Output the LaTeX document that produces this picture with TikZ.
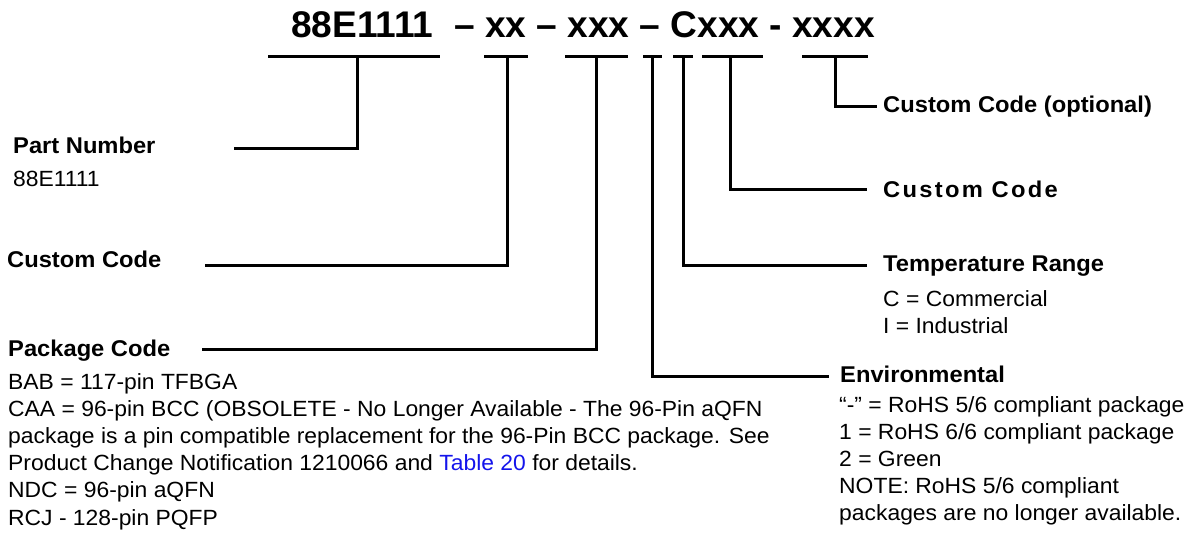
\documentclass[tikz,border=0pt]{standalone}
\usepackage{fontspec}
\setmainfont{Liberation Sans}[FakeStretch=1.04]
\newfontfamily\titlefont{Liberation Sans}
\newfontfamily\spacedfont{Liberation Sans}[FakeStretch=1.04,LetterSpace=10]
\definecolor{linkblue}{RGB}{20,20,235}
\begin{document}
\begin{tikzpicture}[x=1pt,y=-1pt,
  bar/.style={line width=3pt},
  lead/.style={line width=3pt,line join=miter},
  lbl/.style={anchor=base west,inner sep=0pt,font=\fontsize{22.8}{27}\selectfont\bfseries},
  body/.style={anchor=base west,inner sep=0pt,font=\fontsize{22}{27.2}\selectfont},
  title/.style={anchor=base west,inner sep=0pt,font=\titlefont\fontsize{37.1}{40}\selectfont\bfseries}]
\useasboundingbox (0,0) rectangle (1188,537);
% title
\node[title] (title) at (291,38) {88E1111\ \ – xx – xxx – Cxxx - xxxx};
% bars
\coordinate (b1w) at (268,57); \coordinate (b1e) at (440,57); \coordinate (b1m) at (357,57);
\coordinate (b2w) at (484,57); \coordinate (b2e) at (528,57); \coordinate (b2m) at (507,57);
\coordinate (b3w) at (565,57); \coordinate (b3e) at (628,57); \coordinate (b3m) at (596,57);
\coordinate (b4w) at (643,57); \coordinate (b4e) at (662,57); \coordinate (b4m) at (652,57);
\coordinate (b5w) at (673,57); \coordinate (b5e) at (693,57); \coordinate (b5m) at (683,57);
\coordinate (b6w) at (702,57); \coordinate (b6e) at (763,57); \coordinate (b6m) at (730,57);
\coordinate (b7w) at (802,57); \coordinate (b7e) at (868,57); \coordinate (b7m) at (835,57);
\foreach \i in {1,...,7} {\draw[bar] (b\i w) -- (b\i e);}
% lead ends
\coordinate (e1) at (234,149);
\coordinate (e2) at (205,266);
\coordinate (e3) at (202,349);
\coordinate (e4) at (829,376);
\coordinate (e5) at (867,266);
\coordinate (e6) at (867,190);
\coordinate (e7) at (877,107);
\foreach \i in {1,...,7} {\draw[lead] (b\i m) |- (e\i);}
% left labels
\node[lbl] (pn) at (13,154) {Part Number};
\node[body] (pntxt) at (13,187) {88E1111};
\node[lbl] (cc1) at (7,268) {Custom Code};
\node[lbl] (pkg) at (8,356) {Package Code};
\node[body] (pkgtxt) at (8,389) {\vtop{%
  \hbox{BAB = 117-pin TFBGA}%
  \hbox{CAA = 96-pin BCC (OBSOLETE - No Longer Available - The 96-Pin aQFN}%
  \hbox{package is a pin compatible replacement for the 96-Pin BCC package. See}%
  \hbox{Product Change Notification 1210066 and \textcolor{linkblue}{Table 20} for details.}%
  \hbox{NDC = 96-pin aQFN}%
  \hbox{RCJ - 128-pin PQFP}}};
% right labels
\node[lbl] (cco) at (883,113) {Custom Code (optional)};
\node[lbl,font=\spacedfont\fontsize{22.8}{27}\selectfont\bfseries] (cc2) at (883,198) {Custom Code};
\node[lbl] (temp) at (883,272) {Temperature Range};
\node[body] (temptxt) at (883,306) {\vtop{%
  \hbox{C = Commercial}%
  \hbox{I = Industrial}}};
\node[lbl] (env) at (840,382) {Environmental};
\node[body] (envtxt) at (839,412) {\vtop{%
  \hbox{“-” = RoHS 5/6 compliant package}%
  \hbox{1 = RoHS 6/6 compliant package}%
  \hbox{2 = Green}%
  \hbox{NOTE: RoHS 5/6 compliant}%
  \hbox{packages are no longer available.}}};
\end{tikzpicture}
\end{document}
